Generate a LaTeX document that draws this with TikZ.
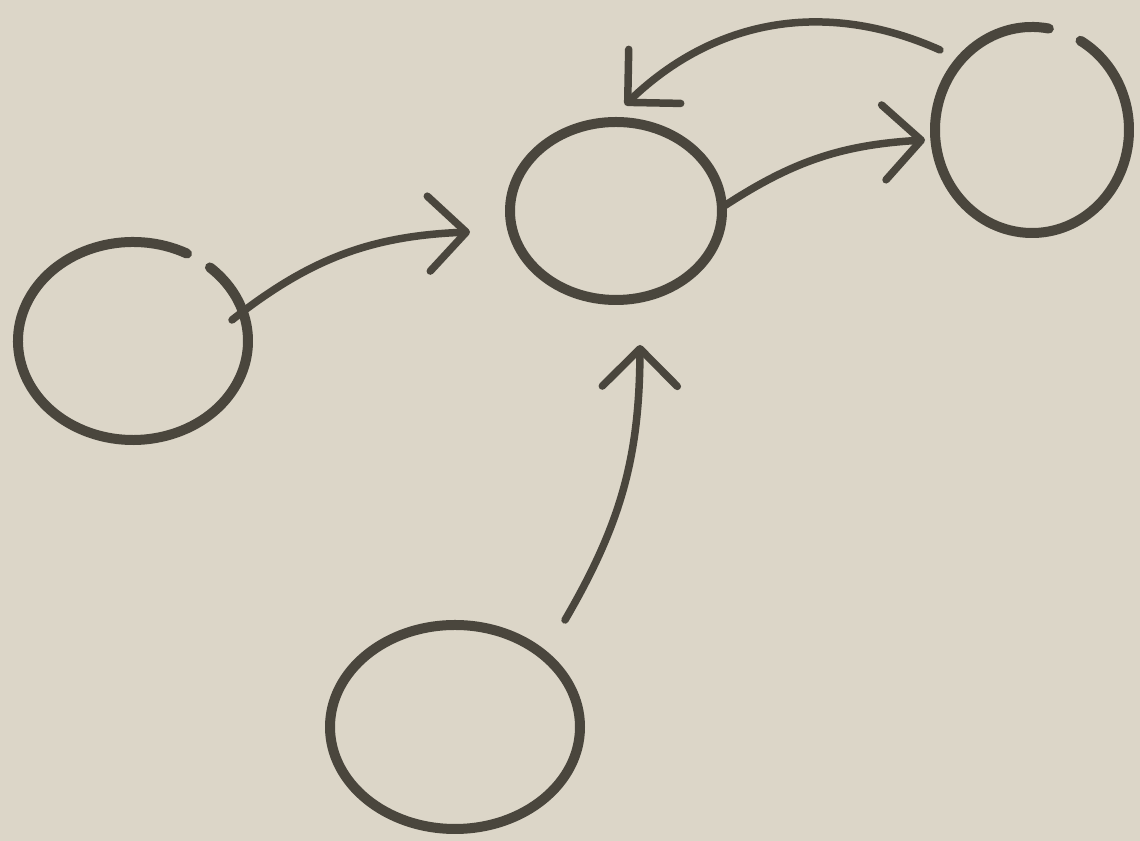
\documentclass[tikz,border=0pt]{standalone}
\usetikzlibrary{arrows.meta,shapes.geometric,calc}
\definecolor{paper}{HTML}{DCD6C8}
\definecolor{pencil}{HTML}{4A463D}
\tikzset{
  blob/.style={ellipse,inner sep=0pt,draw=none},
  ring/.style={draw=pencil,line width=0.2cm,line cap=round,line join=round},
  conn/.style={draw=pencil,line width=0.15cm,line cap=round,
    -{Straight Barb[length=0.75cm,width=1.5cm,round]}},
}
\begin{document}
\begin{tikzpicture}[x=0.02cm,y=0.02cm]
\fill[paper] (0,0) rectangle (1140,841);
\useasboundingbox (0,0) rectangle (1140,841);
% nodes
\node[blob,minimum width=4.6cm,minimum height=3.96cm] (L) at (133,500) {};
\node[blob,minimum width=4.24cm,minimum height=3.56cm] (C) at (616,630) {};
\node[blob,minimum width=3.88cm,minimum height=4.12cm] (R) at (1032,711) {};
\node[blob,minimum width=5.0cm,minimum height=4.08cm] (B) at (455,114) {};
% outlines (hand-drawn, with small gaps)
\draw[ring] ($(L.center)+(62:115 and 99)$) arc[start angle=62,end angle=408,x radius=115,y radius=99];
\draw[ring] (C.center) ellipse[x radius=106,y radius=89];
\draw[ring] ($(R.center)+(80:97 and 103)$) arc[start angle=80,end angle=420,x radius=97,y radius=103];
\draw[ring] (B.center) ellipse[x radius=125,y radius=102];
% free ends
\coordinate (s1) at (232,521);
\coordinate (t1) at (470,609);
\coordinate (t2) at (925,701);
\coordinate (s3) at (940,791);
\coordinate (t3) at (625,736);
\coordinate (s4) at (565,221);
\coordinate (t4) at (640,496);
% connectors
\draw[conn] (s1) to[bend left=18] (t1);
\draw[conn] (C.2) to[bend left=15] (t2);
\draw[conn] (s3) to[bend right=34] (t3);
\draw[conn] (s4) to[bend right=15] (t4);
\end{tikzpicture}
\end{document}
